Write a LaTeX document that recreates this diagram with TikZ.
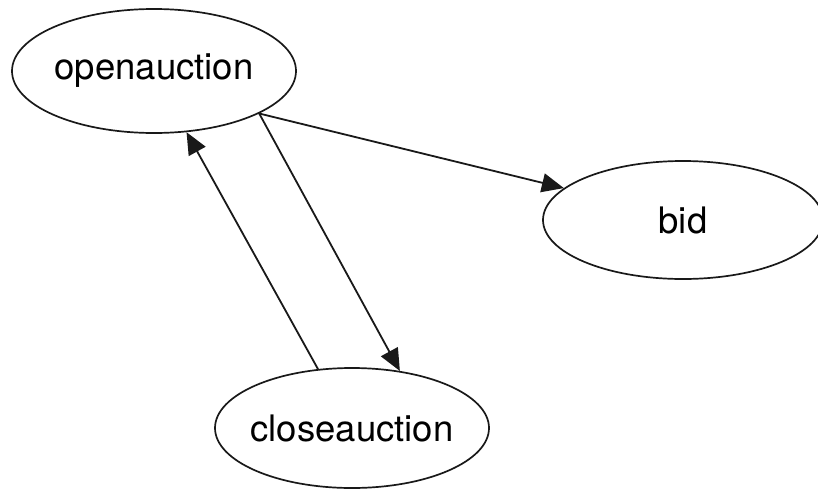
\documentclass[tikz,border=0pt]{standalone}
\usepackage{fontspec}
\setmainfont{TeX Gyre Heros}
\usetikzlibrary{arrows.meta,shapes.geometric}

\begin{document}
\begin{tikzpicture}[x=1pt, y=-1pt]
% Node styles ---
\tikzstyle{state} = [ellipse, line width = 1.7pt, draw = black!90, inner xsep = -20pt, inner ysep = 0pt, font = \fontsize{36.5}{44}\selectfont] % Operations
% Edge styles
\tikzstyle{con} = [-{Triangle[length = 22pt, width = 19pt]}, line width = 1.8pt, draw = black!90] % Transitions
% Begin Figure ---
\useasboundingbox (0,0) rectangle (818,490);
% Nodes
\node at (154,71) [state, minimum width = 284pt, minimum height = 124pt] (open) {openauction};
\node at (683,220) [state, minimum width = 280pt, minimum height = 118pt] (bid) {bid};
\node at (352,428) [state, minimum width = 274pt, minimum height = 120pt] (close) {closeauction};
% Paths
\path (open.-22) edge [con] (bid.165);
\path (open.-22) edge [con] (close.50);
\path (close.120) edge [con] (open.-62);
\end{tikzpicture}
\end{document}
